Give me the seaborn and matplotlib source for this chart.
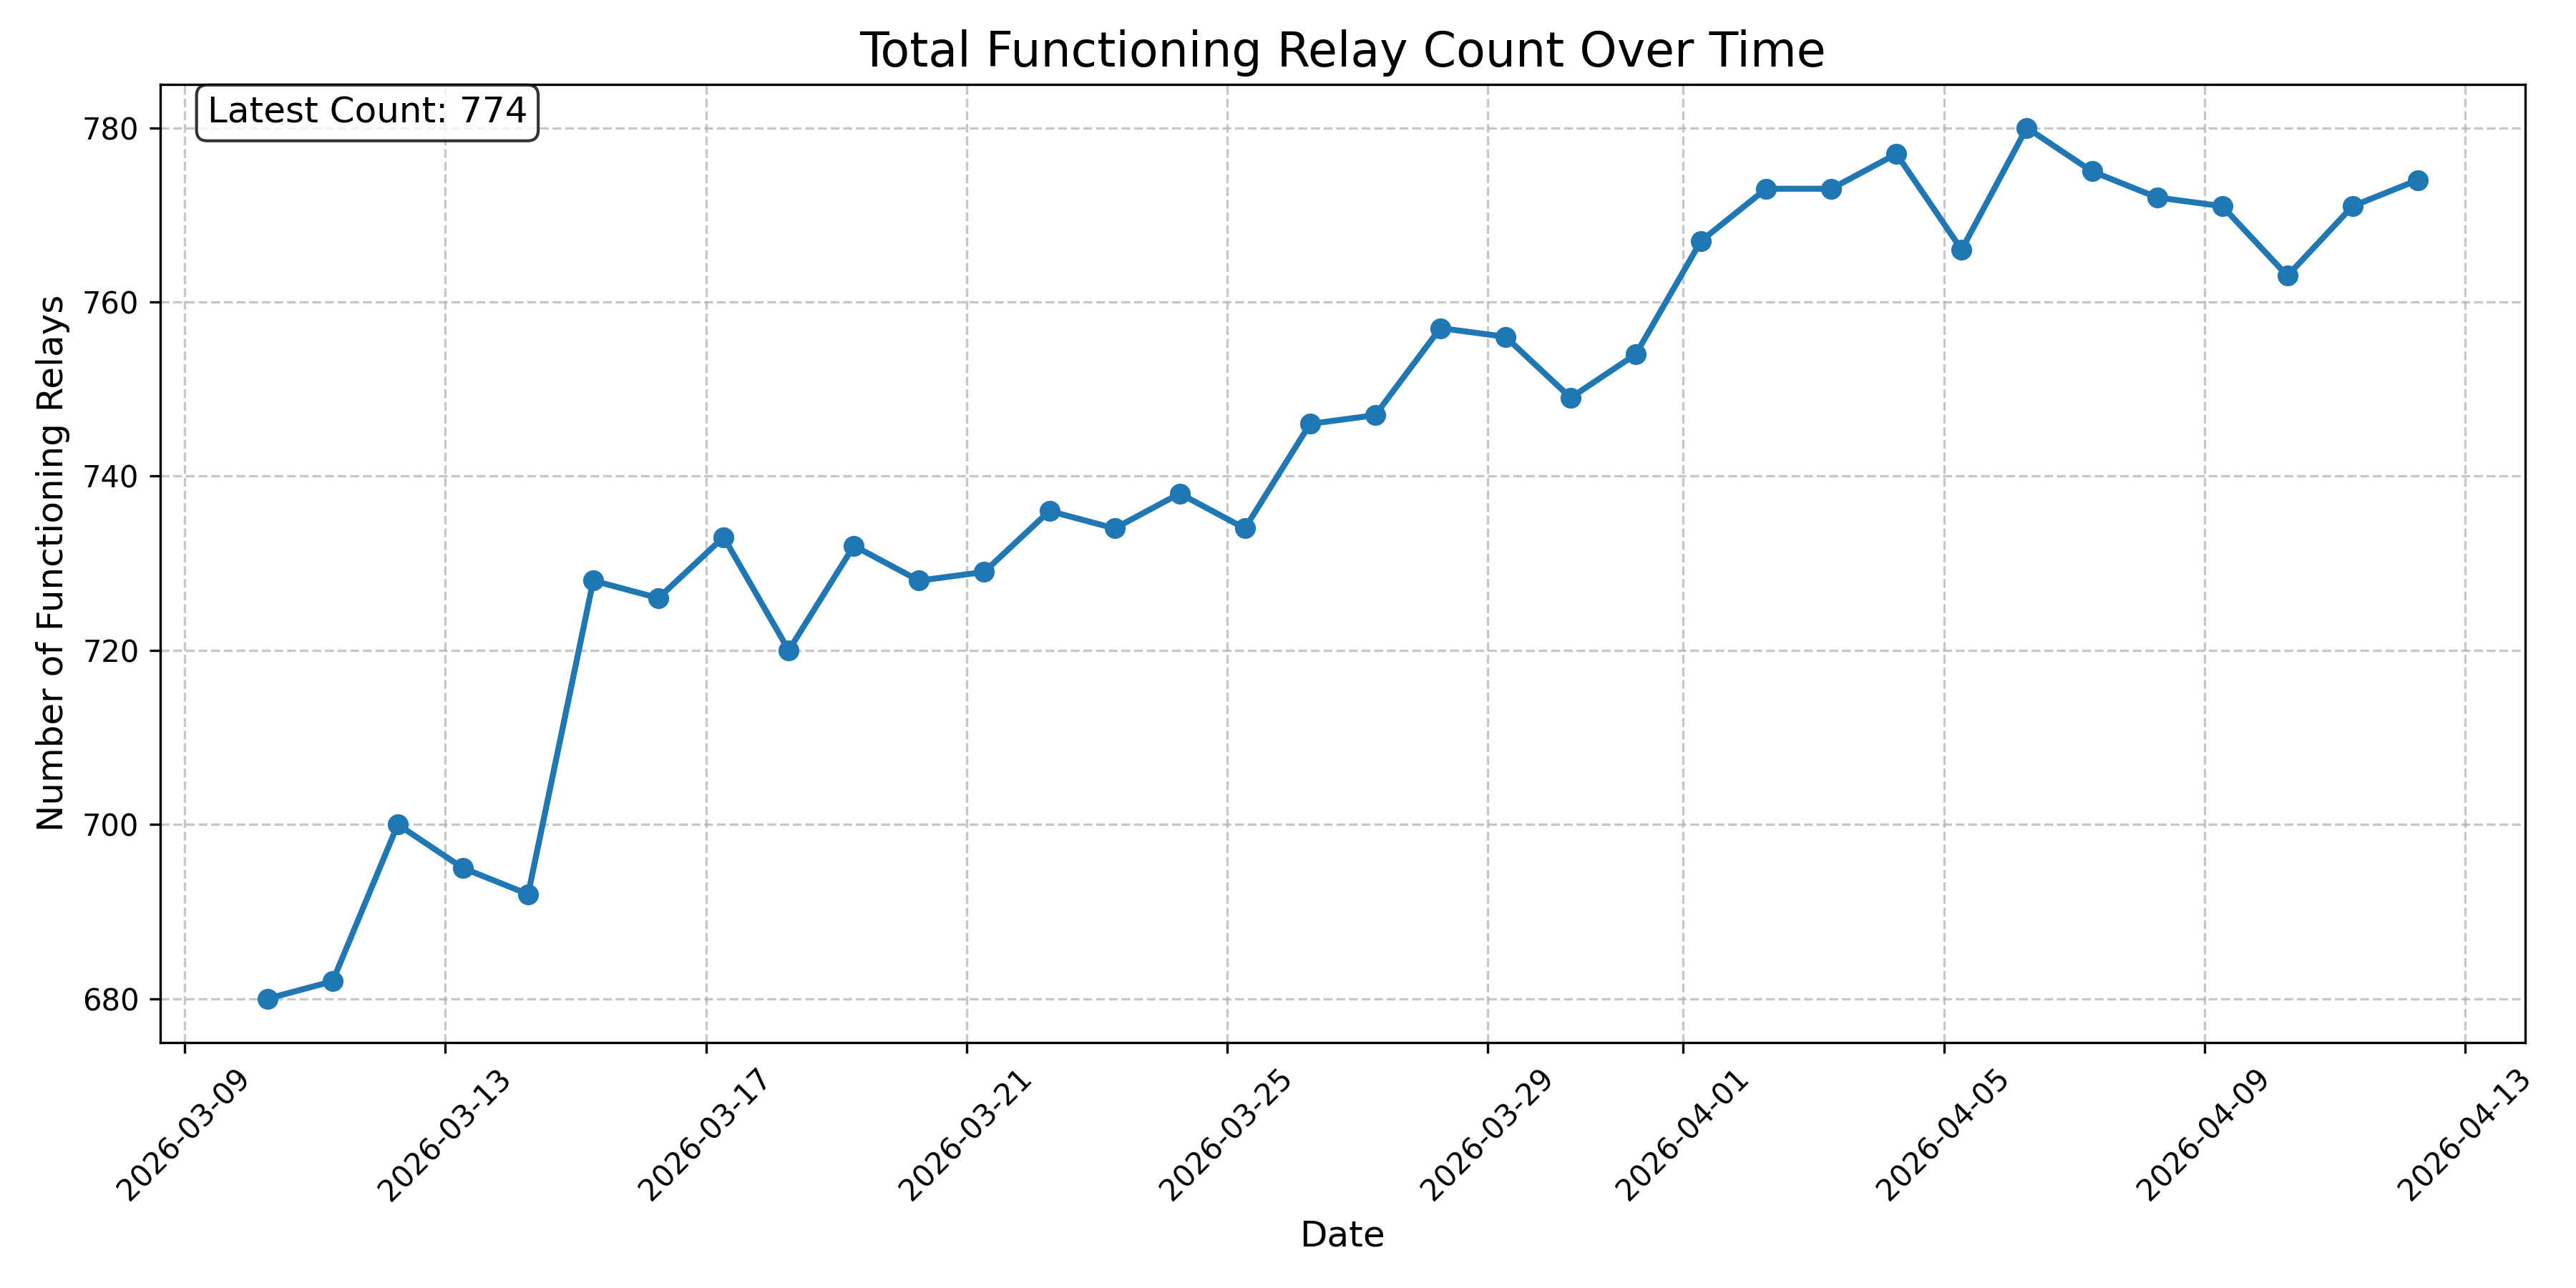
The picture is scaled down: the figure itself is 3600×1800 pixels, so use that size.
import pandas as pd
import matplotlib
matplotlib.use('Agg')
import matplotlib.pyplot as plt
import seaborn as sns

# Daily relay counts
dates = [
    '2026-03-10', '2026-03-11', '2026-03-12', '2026-03-13', '2026-03-14',
    '2026-03-15', '2026-03-16', '2026-03-17', '2026-03-18', '2026-03-19',
    '2026-03-20', '2026-03-21', '2026-03-22', '2026-03-23', '2026-03-24',
    '2026-03-25', '2026-03-26', '2026-03-27', '2026-03-28', '2026-03-29',
    '2026-03-30', '2026-03-31', '2026-04-01', '2026-04-02', '2026-04-03',
    '2026-04-04', '2026-04-05', '2026-04-06', '2026-04-07', '2026-04-08',
    '2026-04-09', '2026-04-10', '2026-04-11', '2026-04-12',
]
counts = [
    680, 682, 700, 695, 692,
    728, 726, 733, 720, 732,
    728, 729, 736, 734, 738,
    734, 746, 747, 757, 756,
    749, 754, 767, 773, 773,
    777, 766, 780, 775, 772,
    771, 763, 771, 774,
]
snapshot_time = '06:30'

df = pd.DataFrame({
    'date': pd.to_datetime([d + ' ' + snapshot_time for d in dates]),
    'count': counts,
})

fig, ax = plt.subplots(figsize=(12, 6), dpi=300)
sns.lineplot(data=df, x='date', y='count', ax=ax, color='#1f77b4',
             linewidth=2, marker='o', markersize=6,
             markeredgecolor='#1f77b4', markeredgewidth=1)

ax.set_title('Total Functioning Relay Count Over Time', fontsize=16)
ax.set_xlabel('Date', fontsize=12)
ax.set_ylabel('Number of Functioning Relays', fontsize=12)
ax.grid(True, linestyle='--', alpha=0.7)
plt.xticks(rotation=45)

ax.text(0.02, 0.988, f'Latest Count: {counts[-1]}', transform=ax.transAxes,
        fontsize=12, va='top',
        bbox=dict(boxstyle='round', facecolor='white', alpha=0.8))

plt.subplots_adjust(left=0.0621, right=0.9803, top=0.9346, bottom=0.1908)
plt.savefig('out.png', dpi=300)
